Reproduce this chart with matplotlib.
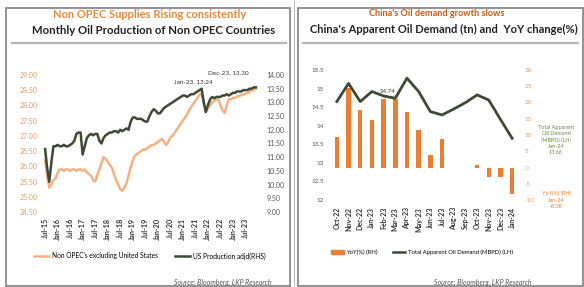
import matplotlib
matplotlib.use('Agg')
import matplotlib.pyplot as plt
import numpy as np
from matplotlib.patches import Rectangle
from matplotlib.lines import Line2D

plt.rcParams['font.family'] = ['Lato', 'DejaVu Sans']

# ---- left panel data (monthly, Jul-15 .. Dec-23) ----
left_ticks = ['Jul-15', 'Jan-16', 'Jul-16', 'Jan-17', 'Jul-17', 'Jan-18', 'Jul-18', 'Jan-19',
              'Jul-19', 'Jan-20', 'Jul-20', 'Jan-21', 'Jul-21', 'Jan-22', 'Jul-22', 'Jan-23', 'Jul-23']
non_opec_ex_us = [26.20, 25.70, 25.30, 25.40, 25.55, 25.60, 25.80, 25.90, 25.90, 25.85,
                  25.90, 25.90, 25.85, 25.90, 25.90, 25.85, 25.90, 25.90, 25.85, 25.90,
                  25.80, 25.75, 25.70, 25.55, 25.50, 25.70, 25.90, 26.10, 26.30, 26.25,
                  26.15, 26.05, 25.95, 25.75, 25.55, 25.40, 25.25, 25.20, 25.30, 25.45,
                  25.70, 25.95, 26.20, 26.35, 26.40, 26.45, 26.50, 26.55, 26.55, 26.60,
                  26.65, 26.70, 26.70, 26.75, 26.80, 26.85, 26.90, 26.80, 26.70, 26.80,
                  26.95, 27.00, 27.10, 27.20, 27.30, 27.40, 27.50, 27.60, 27.70, 27.85,
                  27.95, 28.05, 28.15, 28.25, 28.35, 28.40, 28.10, 27.80, 27.90, 28.00,
                  28.10, 28.15, 28.20, 28.20, 28.00, 27.85, 27.75, 28.00, 28.20, 28.20,
                  28.25, 28.25, 28.30, 28.30, 28.35, 28.35, 28.40, 28.40, 28.45, 28.50,
                  28.50, 28.55]
us_prod = [11.30, 10.60, 10.10, 10.80, 11.40, 11.40, 11.45, 11.40, 11.40, 11.45,
           11.40, 11.40, 11.45, 11.50, 11.60, 11.85, 11.90, 11.90, 11.10, 11.40,
           11.70, 11.80, 11.85, 11.80, 11.85, 11.85, 11.60, 11.50, 11.70, 11.80,
           11.85, 11.90, 11.90, 11.95, 11.95, 11.90, 12.00, 11.95, 12.00, 12.05,
           12.00, 12.30, 12.45, 12.45, 12.40, 12.40, 12.40, 12.35, 12.30, 12.30,
           12.50, 12.65, 12.75, 12.70, 12.60, 12.60, 12.70, 12.80, 12.85, 12.90,
           12.95, 13.00, 13.05, 13.10, 13.15, 13.20, 13.25, 13.25, 13.20, 13.25,
           13.30, 13.30, 13.35, 13.40, 13.45, 13.50, 13.00, 12.65, 12.90, 13.10,
           13.20, 13.15, 13.20, 13.20, 13.20, 13.25, 13.25, 13.30, 13.25, 13.30,
           13.35, 13.35, 13.40, 13.40, 13.40, 13.45, 13.45, 13.45, 13.50, 13.50,
           13.55, 13.55]

# ---- right panel data ----
months = ['Oct-22', 'Nov-22', 'Dec-22', 'Jan-23', 'Feb-23', 'Mar-23', 'Apr-23', 'May-23',
          'Jun-23', 'Jul-23', 'Aug-23', 'Sep-23', 'Oct-23', 'Nov-23', 'Dec-23', 'Jan-24']
yoy = [9.4, 24.4, 17.6, 14.5, 21.2, 21.2, 17.1, 11.5, 3.7, 8.9, 0.0, 0.0, 0.8, -3.0, -3.0, -8.08]
demand = [14.65, 15.14, 14.65, 14.92, 14.80, 14.74, 15.28, 14.92, 14.38, 14.29,
          14.45, 14.62, 14.83, 14.69, 14.17, 13.66]

W, H = 584, 287
def box(l, t, r, b):
    return [l / W, 1 - b / H, (r - l) / W, (b - t) / H]
def fx(x):
    return x / W
def fy(y):
    return 1 - y / H

orange_lt = '#F4B183'
orange = '#ED7D31'
title_or = '#C55A11'
dkgreen = '#3E4A35'
tick_or = '#E59A62'

fig = plt.figure(figsize=(5.84, 2.87), dpi=100)

# panel frames
for l, r in [(6, 290), (298, 583)]:
    fig.patches.append(Rectangle((fx(l), fy(286)), fx(r - l), (286 - 8) / H,
                                 transform=fig.transFigure, fill=False, ec='#8a8a8a', lw=1.3))
fig.patches.append(Rectangle((fx(293.5), 0), fx(1.5), 1, transform=fig.transFigure,
                             color='#bbbbbb', lw=0))
for l, r in [(12, 286), (303, 578)]:
    fig.lines.append(Line2D([fx(l), fx(r)], [fy(43), fy(43)], transform=fig.transFigure,
                            color='#b5b5b5', lw=1.6))

# ---------------- left panel ----------------
fig.text(fx(150), fy(15), 'Non OPEC Supplies Rising consistently', ha='center', va='center',
         fontsize=8, color='#E08A3C', fontweight='bold')
fig.text(fx(154), fy(31), 'Monthly Oil Production of Non OPEC Countries', ha='center', va='center',
         fontsize=8.2, color='#222222', fontweight='bold')

ax1 = fig.add_axes(box(43, 75, 258, 212))
xs = np.arange(len(us_prod))
ax1.plot(xs, non_opec_ex_us, color=orange_lt, lw=1.8)
ax1.set_ylim(24.5, 29.0)
ax1.set_yticks(np.arange(24.5, 29.01, 0.5))
ax1.set_yticklabels(['%.2f' % v for v in np.arange(24.5, 29.01, 0.5)], fontsize=5.0, color=tick_or)
ax1.set_xlim(-1, len(us_prod))
ax1.set_xticks(np.arange(0, len(us_prod), 6))
ax1.set_xticklabels(left_ticks, rotation=90, fontsize=5.2, color='#333333', fontweight='bold')
ax1.tick_params(length=0, pad=4)
for s in ax1.spines.values():
    s.set_visible(False)

ax1b = ax1.twinx()
ax1b.plot(xs, us_prod, color=dkgreen, lw=1.8)
ax1b.set_ylim(9.0, 14.0)
ax1b.set_yticks(np.arange(9.0, 14.01, 0.5))
ax1b.set_yticklabels(['%.2f' % v for v in np.arange(9.0, 14.01, 0.5)], fontsize=5.0, color='#555555')
ax1b.tick_params(length=0, pad=6)
for s in ax1b.spines.values():
    s.set_visible(False)

# local peak before the dip, and the last point
pk = int(np.argmax(us_prod[:80]))
ax1b.annotate('Jan-23, 13.24', xy=(xs[pk], us_prod[pk]), xytext=(-6, 3), textcoords='offset points',
              fontsize=4.6, color='#333333', ha='center', va='bottom')
ax1b.annotate('Dec-23, 13.30', xy=(xs[-1], us_prod[-1]), xytext=(-5, 9), textcoords='offset points',
              fontsize=4.6, color='#333333', ha='right', va='bottom')

h1 = [Line2D([], [], color=orange_lt, lw=1.8), Line2D([], [], color=dkgreen, lw=1.8)]
fig.legend(h1, ["Non OPEC's excluding United States", 'US Production adjd(RHS)'],
           loc='center', bbox_to_anchor=(fx(150), fy(256)), ncol=2, frameon=False,
           fontsize=4.8, handlelength=2.2, columnspacing=2.5, handletextpad=0.5)
fig.text(fx(272), fy(282), 'Source: Bloomberg, LKP Research', ha='right', va='center',
         fontsize=5.0, color='#555555', style='italic')

# ---------------- right panel ----------------
fig.text(fx(437), fy(14), "China's Oil demand growth slows", ha='center', va='center',
         fontsize=6.6, color=title_or, fontweight='bold')
fig.text(fx(444), fy(29), "China's Apparent Oil Demand (tn) and  YoY change(%)", ha='center',
         va='center', fontsize=8.0, color='#222222', fontweight='bold')

ax2 = fig.add_axes(box(331, 70, 518, 200))
xi = np.arange(len(months))
ax2.set_xlim(-0.5, len(months) - 0.5)
ax2.set_ylim(12.0, 15.5)
ax2.set_yticks(np.arange(12.0, 15.51, 0.5))
ax2.set_yticklabels(['%g' % v for v in np.arange(12.0, 15.51, 0.5)], fontsize=4.6, color='#555555')
ax2.set_xticks(xi)
ax2.set_xticklabels(months, rotation=90, fontsize=5.0, color='#333333', fontweight='bold')
ax2.tick_params(length=0, pad=5)
for s in ax2.spines.values():
    s.set_visible(False)

ax2b = ax2.twinx()
ax2b.bar(xi, yoy, width=0.38, color=orange, zorder=1)
ax2b.set_ylim(-10, 30)
ax2b.set_yticks(np.arange(-10, 31, 5))
ax2b.set_yticklabels(['%d' % v for v in np.arange(-10, 31, 5)], fontsize=4.6, color=tick_or)
ax2b.tick_params(length=0, pad=5)
for s in ax2b.spines.values():
    s.set_visible(False)

# line drawn above the bars
ax2c = ax2.twinx()
ax2c.set_ylim(ax2.get_ylim())
ax2c.plot(xi, demand, color=dkgreen, lw=2.0)
ax2c.axis('off')
ax2c.annotate('%.2f' % demand[5], xy=(xi[5], demand[5]), xytext=(-6, 3), textcoords='offset points',
              fontsize=4.4, color='#333333', ha='center', va='bottom')

fig.text(fx(556), fy(140), 'Total Apparent\nOil Demand\n(MBPD) (LH)\nJan-24\n%.2f' % demand[-1],
         ha='center', va='center', fontsize=4.0, color='#6E8B3D', linespacing=1.3)
fig.text(fx(556), fy(200), 'YoY(%%) (RH)\nJan-24\n%.2f' % yoy[-1],
         ha='center', va='center', fontsize=4.0, color=orange, linespacing=1.3)

h2 = [Rectangle((0, 0), 1, 1, color=orange), Line2D([], [], color=dkgreen, lw=1.8)]
fig.legend(h2, ['YoY(%) (RH)', 'Total Apparent Oil Demand (MBPD) (LH)'],
           loc='center', bbox_to_anchor=(fx(422), fy(252)), ncol=2, frameon=False,
           fontsize=4.2, handlelength=2.2, columnspacing=2.5, handletextpad=0.5)
fig.text(fx(532), fy(282), 'Source: Bloomberg, LKP Research', ha='right', va='center',
         fontsize=5.0, color='#555555', style='italic')

plt.savefig('out.png', dpi=100)
